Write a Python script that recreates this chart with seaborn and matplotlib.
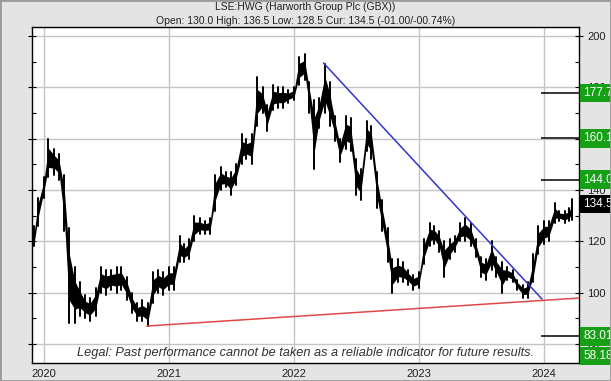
import pandas as pd
import matplotlib
matplotlib.use("Agg")
import matplotlib.pyplot as plt
from matplotlib.patches import Rectangle
from matplotlib.ticker import MultipleLocator
import seaborn as sns

# price range per half-month
dates = ["2019-11-28", "2019-12-05", "2019-12-15",
         "2020-01-01", "2020-01-15", "2020-02-01", "2020-02-15", "2020-03-01", "2020-03-15",
         "2020-04-01", "2020-04-15", "2020-05-01", "2020-05-15", "2020-06-01", "2020-06-15",
         "2020-07-01", "2020-07-15", "2020-08-01", "2020-08-15", "2020-09-01", "2020-09-15",
         "2020-10-01", "2020-10-15", "2020-11-01", "2020-11-15", "2020-12-01", "2020-12-15",
         "2021-01-01", "2021-01-15", "2021-02-01", "2021-02-15", "2021-03-01", "2021-03-15",
         "2021-04-01", "2021-04-15", "2021-05-01", "2021-05-15", "2021-06-01", "2021-06-15",
         "2021-07-01", "2021-07-15", "2021-08-01", "2021-08-15", "2021-09-01", "2021-09-15",
         "2021-10-01", "2021-10-15", "2021-11-01", "2021-11-15", "2021-12-01", "2021-12-15",
         "2022-01-01", "2022-01-15", "2022-02-01", "2022-02-15", "2022-03-01", "2022-03-15",
         "2022-04-01", "2022-04-15", "2022-05-01", "2022-05-15", "2022-06-01", "2022-06-15",
         "2022-07-01", "2022-07-15", "2022-08-01", "2022-08-15", "2022-09-01", "2022-09-15",
         "2022-10-01", "2022-10-15", "2022-11-01", "2022-11-15", "2022-12-01", "2022-12-15",
         "2023-01-01", "2023-01-15", "2023-02-01", "2023-02-15", "2023-03-01", "2023-03-15",
         "2023-04-01", "2023-04-15", "2023-05-01", "2023-05-15", "2023-06-01", "2023-06-15",
         "2023-07-01", "2023-07-15", "2023-08-01", "2023-08-15", "2023-09-01", "2023-09-15",
         "2023-10-01", "2023-10-15", "2023-11-01", "2023-11-15", "2023-12-01", "2023-12-15",
         "2024-01-01", "2024-01-15", "2024-02-01", "2024-02-15", "2024-03-01", "2024-03-15",
         "2024-03-22"]
lows = [119, 118, 126,
        137, 145, 146, 144, 124, 88,
        88, 91, 90, 89, 91, 100,
        99, 101, 100, 101, 97, 92,
        89, 89, 87, 96, 100, 99,
        101, 101, 112, 112, 113, 120,
        123, 123, 123, 132, 140, 141,
        138, 142, 150, 152, 150, 165,
        170, 163, 171, 172, 172, 174,
        175, 181, 183, 170, 148, 164,
        170, 165, 159, 151, 156, 155,
        138, 136, 155, 152, 133, 124,
        112, 100, 104, 104, 103, 101,
        102, 111, 118, 119, 116, 106,
        113, 116, 120, 120, 118, 114,
        106, 105, 109, 106, 100, 105,
        104, 101, 98, 98, 104, 115,
        119, 120, 127, 128, 127, 128,
        128.5]
highs = [125, 126, 137,
         145, 160, 156, 154, 146, 125,
         110, 104, 99, 98, 102, 110,
         109, 109, 110, 110, 106, 100,
         96, 97, 96, 108, 109, 108,
         110, 110, 122, 119, 121, 130,
         129, 128, 129, 146, 149, 147,
         147, 150, 162, 160, 162, 184,
         180, 173, 181, 180, 180, 179,
         180, 192, 193, 182, 175, 176,
         189, 182, 169, 160, 169, 168,
         152, 148, 167, 165, 147, 136,
         125, 113, 113, 112, 109, 107,
         108, 121, 127, 126, 124, 120,
         121, 122, 127, 129, 127, 121,
         114, 113, 120, 114, 112, 110,
         109, 105, 103, 104, 115, 126,
         128, 128, 135, 132, 132, 133,
         136.5]

# trend lines
blue_dates = ["2022-03-28", "2023-12-26"]
blue_vals = [189.5, 97.5]
red_dates = ["2020-10-28", "2024-04-12"]
red_vals = [87.0, 97.9]

target_levels = [177.78, 160.10, 144.00, 83.01, 58.18]
target_labels = ["177.78", "160.10", "144.00", "83.01", "58.18"]
current_price = 134.5
years = [2020, 2021, 2022, 2023, 2024]
y_ticks = [80, 100, 120, 140, 160, 180, 200]

sns.set_theme(style="white")
plt.rcParams["font.family"] = ["Liberation Sans", "DejaVu Sans"]

df = pd.DataFrame({"date": pd.to_datetime(dates), "low": lows, "high": highs})
bars = df.melt(id_vars="date", value_vars=["low", "high"], value_name="price")
rng = df["high"] - df["low"]

trend = pd.concat([
    pd.DataFrame({"date": pd.to_datetime(blue_dates), "value": blue_vals, "line": "blue"}),
    pd.DataFrame({"date": pd.to_datetime(red_dates), "value": red_vals, "line": "red"}),
])

fig = plt.figure(figsize=(6.11, 3.81), dpi=100, facecolor="#e4e4e4")
ax = fig.add_axes([32 / 611, 18 / 381, 547 / 611, 336 / 381])
ax.set_facecolor("white")

x0, x1 = pd.Timestamp("2019-11-28"), pd.Timestamp("2024-04-12")
y0, y1 = 72.6, 203.5

# price bars: solid core of each range plus the full high-low bar
ax.fill_between(df["date"], df["low"] + 0.25 * rng, df["high"] - 0.25 * rng,
                color="black", lw=0, zorder=2)
sns.lineplot(data=bars, x="date", y="price", units="date", estimator=None,
             color="black", lw=1.4, ax=ax, zorder=2)

sns.lineplot(data=trend, x="date", y="value", hue="line",
             palette={"blue": "#3434c8", "red": "#e04848"}, lw=1.1,
             legend=False, ax=ax, zorder=3)

# target levels
for lvl in target_levels:
    if lvl > y0:
        ax.hlines(lvl, 0.93, 1.0, transform=ax.get_yaxis_transform(),
                  color="black", lw=1.1, zorder=3)

ax.set_xlim(x0, x1)
ax.set_ylim(y0, y1)

ax.set_xticks([pd.Timestamp(f"{y}-01-01") for y in years])
ax.set_xticklabels([str(y) for y in years], fontsize=8, color="#202020")
ax.tick_params(axis="x", length=0, pad=4)

ax.yaxis.tick_right()
ax.set_yticks(y_ticks)
ax.set_yticklabels([str(v) for v in y_ticks], fontsize=8, color="#202020")
ax.yaxis.set_minor_locator(MultipleLocator(10))
ax.tick_params(axis="y", which="both", left=True, right=True, labelleft=False,
               labelright=True, direction="in", length=3, width=0.8, color="black", pad=3)
ax.tick_params(axis="y", which="major", direction="inout", length=6)

ax.grid(True, which="major", color="#c4c4c4", lw=1)
ax.set_axisbelow(True)
for s in ax.spines.values():
    s.set_color("black")
    s.set_linewidth(1)
ax.set_xlabel("")
ax.set_ylabel("")

# value boxes on the right edge
ytf = ax.get_yaxis_transform()
for lvl, lab in zip(target_levels, target_labels):
    ypos = max(lvl, y0 + 2.7)
    ax.text(1.0075, ypos, lab, transform=ytf, ha="left", va="center", fontsize=8.5,
            color="white", clip_on=False, zorder=5,
            bbox=dict(boxstyle="square,pad=0.28", fc="#16a016", ec="none"))
ax.text(1.0075, current_price, f"{current_price}", transform=ytf, ha="left", va="center",
        fontsize=8.5, color="white", clip_on=False, zorder=5,
        bbox=dict(boxstyle="square,pad=0.28", fc="black", ec="none"))

ax.text(0.5, 0.03, "Legal: Past performance cannot be taken as a reliable indicator for future results.",
        transform=ax.transAxes, ha="center", va="center", fontsize=9.2,
        style="italic", color="#303030", zorder=4)

fig.text(0.5, 1 - 7.5 / 381, "LSE:HWG (Harworth Group Plc (GBX))",
         ha="center", va="center", fontsize=7.5, color="#202020")
fig.text(0.5, 1 - 21 / 381, "Open: 130.0 High: 136.5 Low: 128.5 Cur: 134.5 (-01.00/-00.74%)",
         ha="center", va="center", fontsize=7.5, color="#202020")

fig.patches.append(Rectangle((0, 0), 1, 1, transform=fig.transFigure, fill=False,
                             ec="#9a9a9a", lw=2))

fig.savefig("out.png", dpi=100, facecolor=fig.get_facecolor())
